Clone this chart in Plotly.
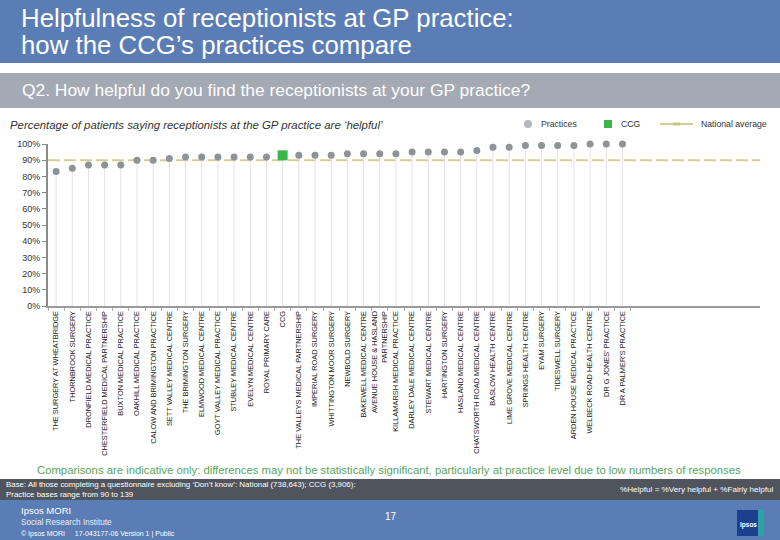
import plotly.graph_objects as go

# ---------------- data ----------------
CATEGORIES = [
    "THE SURGERY AT WHEATBRIDGE", "THORNBROOK SURGERY", "DRONFIELD MEDICAL PRACTICE",
    "CHESTERFIELD MEDICAL PARTNERSHIP", "BUXTON MEDICAL PRACTICE", "OAKHILL MEDICAL PRACTICE",
    "CALOW AND BRIMINGTON PRACTICE", "SETT VALLEY MEDICAL CENTRE", "THE BRIMINGTON SURGERY",
    "ELMWOOD MEDICAL CENTRE", "GOYT VALLEY MEDICAL PRACTICE", "STUBLEY MEDICAL CENTRE",
    "EVELYN MEDICAL CENTRE", "ROYAL PRIMARY CARE", "CCG",
    "THE VALLEYS MEDICAL PARTNERSHIP", "IMPERIAL ROAD SURGERY", "WHITTINGTON MOOR SURGERY",
    "NEWBOLD SURGERY", "BAKEWELL MEDICAL CENTRE", "AVENUE HOUSE & HASLAND<br>PARTNERSHIP",
    "KILLAMARSH MEDICAL PRACTICE", "DARLEY DALE MEDICAL CENTRE", "STEWART MEDICAL CENTRE",
    "HARTINGTON SURGERY", "HASLAND MEDICAL CENTRE", "CHATSWORTH ROAD MEDICAL CENTRE",
    "BASLOW HEALTH CENTRE", "LIME GROVE MEDICAL CENTRE", "SPRINGS HEALTH CENTRE",
    "EYAM SURGERY", "TIDESWELL SURGERY", "ARDEN HOUSE MEDICAL PRACTICE",
    "WELBECK ROAD HEALTH CENTRE", "DR G JONES' PRACTICE", "DR A PALMER'S PRACTICE",
]
VALUES = [83, 85, 87, 87, 87, 90, 90, 91, 92, 92, 92, 92, 92, 92, 93,
          93, 93, 93, 94, 94, 94, 94, 95, 95, 95, 95, 96, 98, 98, 99,
          99, 99, 99, 100, 100, 100]
CCG_LABEL = "CCG"
NATIONAL_AVG = 90
Y_TICKS = [0, 10, 20, 30, 40, 50, 60, 70, 80, 90, 100]
Y_TICK_LABELS = [f"{v}%" for v in Y_TICKS]
N_SLOTS = 44  # axis has room for 44 categories

prac_x = [c for c in CATEGORIES if c != CCG_LABEL]
prac_y = [v for c, v in zip(CATEGORIES, VALUES) if c != CCG_LABEL]
ccg_y = [v for c, v in zip(CATEGORIES, VALUES) if c == CCG_LABEL]

# ---------------- layout helpers (pixel -> paper) ----------------
W, H = 780, 540
PL, PR, PT, PB = 48, 760, 144, 306


def px(x):
    return (x - PL) / (PR - PL)


def py(y):
    return (PB - y) / (PB - PT)


FONT = "Liberation Sans, Arial, sans-serif"
BLUE = "#5b7db5"
GREY_BAND = "#a3aab4"
DARK_BAND = "#50555d"
DOT = "#8e9398"
GREEN = "#3bb54a"
NAT = "#d3cd95"
STEM = "#e2e2e2"

shapes = []
ann = []


def rect(x0, y0, x1, y1, color):
    shapes.append(dict(type="rect", xref="paper", yref="paper",
                       x0=px(x0), x1=px(x1), y0=py(y1), y1=py(y0),
                       fillcolor=color, line=dict(width=0), layer="below"))


def text(x, y, s, size, color="#333333", anchor="left", italic=False, bold=False, family=FONT):
    if bold:
        s = "<b>" + s + "</b>"
    if italic:
        s = "<i>" + s + "</i>"
    ann.append(dict(xref="paper", yref="paper", x=px(x), y=py(y), text=s,
                    showarrow=False, xanchor=anchor, yanchor="middle",
                    font=dict(family=family, size=size, color=color)))


# banners
rect(0, 0, 780, 63, BLUE)
rect(0, 73, 780, 108, GREY_BAND)
rect(0, 479, 780, 500, DARK_BAND)
rect(0, 500, 780, 540, BLUE)

# national average line (data y, across the whole x domain)
shapes.append(dict(type="line", xref="x domain", yref="y", x0=0, x1=1,
                   y0=NATIONAL_AVG, y1=NATIONAL_AVG,
                   line=dict(color=NAT, width=2, dash="12px,4px"), layer="below"))

text(19, 18, "Helpfulness of receptionists at GP practice:", 25.8, "white")
text(19, 45, "how the CCG\u2019s practices compare", 25.8, "white")
text(20, 90, "Q2. How helpful do you find the receptionists at your GP practice?", 17.4, "white")
text(8, 125, "Percentage of patients saying receptionists at the GP practice are \u2018helpful\u2019",
     11.4, "#333333", italic=True)

# legend (manual)
shapes.append(dict(type="circle", xref="paper", yref="paper",
                   x0=px(524), x1=px(532), y0=py(128), y1=py(120),
                   fillcolor="#b4b8bc", line=dict(width=0)))
text(539, 124, "Practices", 8.7)
shapes.append(dict(type="rect", xref="paper", yref="paper",
                   x0=px(604), x1=px(612), y0=py(128), y1=py(120),
                   fillcolor=GREEN, line=dict(width=0)))
text(619, 124, "CCG", 8.7)
shapes.append(dict(type="line", xref="paper", yref="paper",
                   x0=px(660), x1=px(693), y0=py(124), y1=py(124),
                   line=dict(color=NAT, width=2)))
shapes.append(dict(type="rect", xref="paper", yref="paper",
                   x0=px(673), x1=px(680), y0=py(125.5), y1=py(122.5),
                   fillcolor="#c9c282", line=dict(width=0)))
text(699, 124, "National average", 8.7)

# footer texts
text(389, 470, "Comparisons are indicative only: differences may not be statistically significant, "
     "particularly at practice level due to low numbers of responses", 11.3, "#5aa55a", anchor="center")
text(4, 484, "Base: All those completing a questionnaire excluding \u2018Don\u2019t know\u2019: "
     "National (738,643); CCG (3,906):", 7.9, "white")
text(4, 494, "Practice bases range from 90 to 139", 7.9, "white")
text(776, 489, "%Helpful = %Very helpful + %Fairly helpful", 8.1, "white", anchor="right")
text(19, 510, "Ipsos MORI", 9.5, "white")
text(19, 522, "Social Research Institute", 8.2, "#e8ecf4")
text(19, 534, "\u00a9 Ipsos MORI &nbsp;&nbsp;&nbsp; 17-043177-06 Version 1 | Public", 7, "white")
text(391, 516, "17", 10, "white", anchor="center")

# logo
rect(737, 510, 764, 536, "#1c3f8f")
rect(758, 510, 764, 536, "#2aa3a6")
text(748, 525, "Ipsos", 6.5, "white", anchor="center", bold=True)

layout = go.Layout(
    width=W, height=H,
    margin=dict(l=PL, r=W - PR, t=PT, b=H - PB, autoexpand=False),
    paper_bgcolor="white", plot_bgcolor="white",
    showlegend=False,
    shapes=shapes, annotations=ann,
    font=dict(family=FONT, color="#333333"),
    xaxis=dict(
        type="category", categoryorder="array", categoryarray=CATEGORIES,
        range=[-0.5, N_SLOTS - 0.5], showgrid=False, zeroline=False,
        showline=True, linecolor="#9a9a9a", linewidth=2,
        ticks="outside", tickson="boundaries", ticklen=3, tickcolor="#b0b0b0",
        tickangle=-90, tickfont=dict(size=7.4, color="#222222", family=FONT),
        fixedrange=True, automargin=False,
    ),
    yaxis=dict(
        range=[0, 100], tickmode="array", tickvals=Y_TICKS, ticktext=Y_TICK_LABELS,
        showgrid=False, zeroline=False,
        showline=True, linecolor="#8a8a8a", linewidth=2,
        ticks="outside", ticklen=4, tickcolor="#8a8a8a",
        tickfont=dict(size=9, color="#333333", family=FONT),
        fixedrange=True, automargin=False,
    ),
)

fig = go.Figure(layout=layout)

# practices
fig.add_trace(go.Scatter(
    x=prac_x, y=prac_y, mode="markers", name="Practices",
    marker=dict(color=DOT, size=7, symbol="circle"),
    error_y=dict(type="data", symmetric=False, array=[0] * len(prac_y),
                 arrayminus=prac_y, width=0, thickness=1, color=STEM),
    cliponaxis=False, showlegend=False,
))
# CCG
fig.add_trace(go.Scatter(
    x=[CCG_LABEL], y=ccg_y, mode="markers", name="CCG",
    marker=dict(color=GREEN, size=10, symbol="square"),
    error_y=dict(type="data", symmetric=False, array=[0], arrayminus=ccg_y,
                 width=0, thickness=1, color=STEM),
    cliponaxis=False, showlegend=False,
))

fig.write_html("out.html", config={"displayModeBar": False},
               post_script="document.body.style.margin='0';document.body.style.overflow='hidden';")
